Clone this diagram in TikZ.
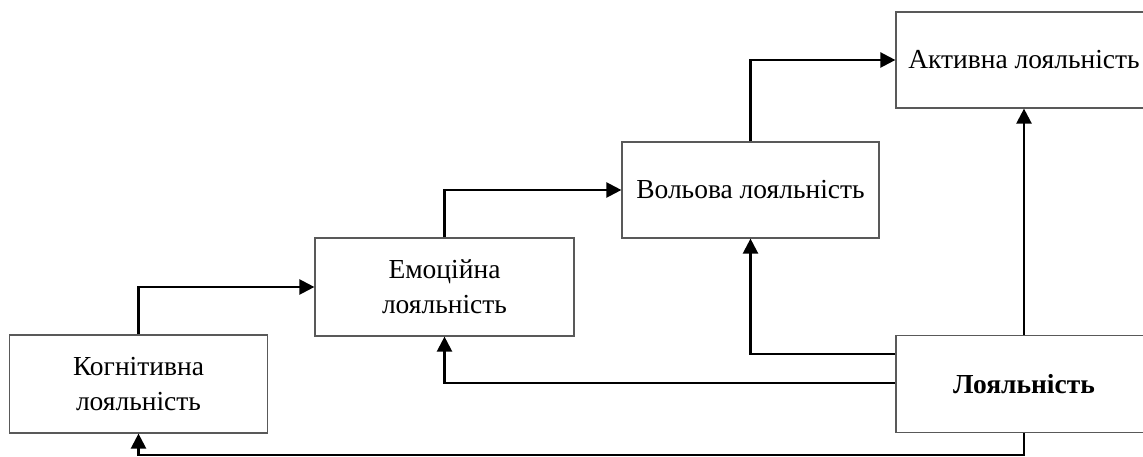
\documentclass[tikz,border=0pt]{standalone}
\usepackage{fontspec}
\setmainfont{Liberation Serif}
\usepackage{tikz}
\usetikzlibrary{arrows.meta, positioning, calc}

\begin{document}
\begin{tikzpicture}[x=1pt, y=-1pt,
    stage/.style={draw=black!65, line width=1.2pt, align=center,
      font=\fontsize{27.5}{35}\selectfont, inner sep=0pt},
    flow/.style={-{Triangle[length=15pt, width=15pt]}, line width=2.3pt}]
      \useasboundingbox (0,0) rectangle (1143,457);
      \node[stage, minimum width=258, minimum height=98] (kog) at (138.5,384)
        {Когнітивна\\лояльність};
      \node[stage, minimum width=259, minimum height=98] (emo) at (444.5,287)
        {Емоційна\\лояльність};
      \node[stage, minimum width=257, minimum height=96] (vol) at (750.5,190)
        {Вольова лояльність};
      \node[stage, minimum width=256, minimum height=96] (akt) at (1024,60)
        {Активна лояльність};
      \node[stage, minimum width=256, minimum height=97,
        font=\fontsize{27.5}{35}\selectfont\bfseries] (loy) at (1024,384)
        {Лояльність};
      % step-up chain
      \draw[flow] (kog.north) |- (emo.west);
      \draw[flow] (emo.north) |- (vol.west);
      \draw[flow] (vol.north) |- (akt.west);
      % links from the main node
      \draw[flow] (loy.north) -- (akt.south);
      \draw[flow] ([yshift=30pt]loy.west) -| (vol.south);
      \draw[flow] ([yshift=1pt]loy.west) -| (emo.south);
      \draw[flow] (loy.south) -- ++(0,22) -| (kog.south);
    \end{tikzpicture}
\end{document}
